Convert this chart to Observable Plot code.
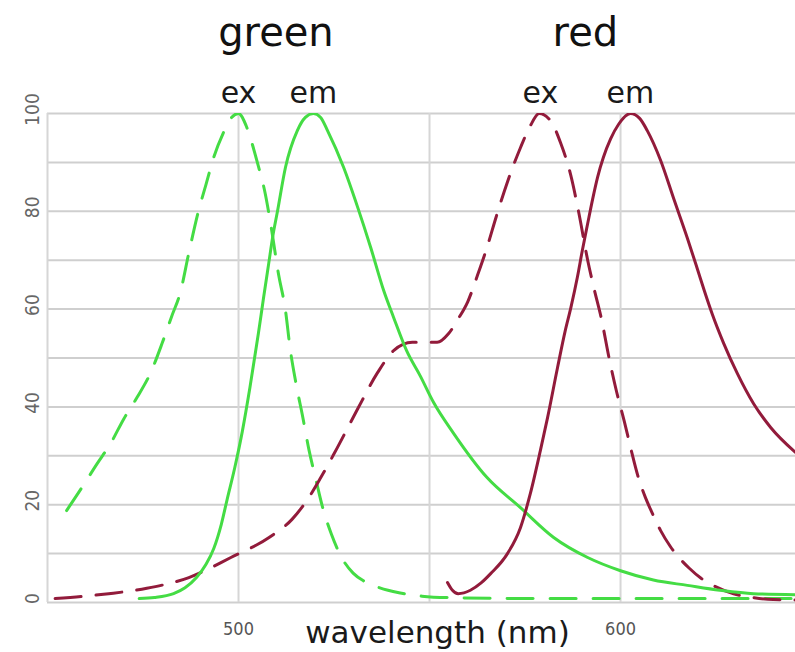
<!DOCTYPE html>
<html>
<head>
<meta charset="utf-8">
<script src="https://cdn.jsdelivr.net/npm/d3@7"></script>
<script src="https://cdn.jsdelivr.net/npm/@observablehq/plot@0.6"></script>
<style>
  html, body { margin: 0; padding: 0; background: #fff; }
</style>
</head>
<body>
<div id="chart"></div>
<script>
// wavelength (nm), relative intensity (%)
const greenEx = [
  [455,18.8],[459,23.5],[463,28.4],[466.5,32.5],[470,37.6],[473.5,42],[477,47],[480,53],
  [482.5,58.5],[484.8,63.5],[487,71.5],[489.5,80],[491.5,85.5],[493.5,91],[496,96],[498,99],
  [500,100],[502,97.5],[503.5,94],[505,89.8],[507,83.6],[508.5,77],[510.5,67],[512.3,59.7],
  [513.5,52],[515,45],[516.8,38],[518.5,31],[520.3,25],[522,19.5],[524.3,14],[527,9.2],
  [530,6],[533,4.3],[537,3],[542,2],[548,1.3],[555,1],[580,0.8],[646,0.8]
];
const greenEm = [
  [474,0.8],[478,1.0],[483,1.8],[486,3],[489,5.1],[491.5,7.8],[493.5,11],[495.5,16],[497,21],
  [499,27.5],[501,35],[503,44],[505.2,55],[506.5,62],[507.9,69.3],[509,75],[510.2,80],[512.3,89],
  [515.4,96.5],[517.5,99.2],[519.6,100],[521.5,99.2],[523.3,96.5],[527.5,89],[531.2,80.8],
  [534.6,72.6],[538,63.8],[540.6,58.3],[544,51.5],[547.6,46.3],[551,41],[556.3,34.6],[565,25.6],
  [573.8,19.4],[582.5,13.3],[591.4,9.2],[600,6.5],[608.6,4.6],[617.5,3.5],[626,2.5],[634.8,1.8],
  [646,1.6]
];
const redEx = [
  [452,0.8],[460,1.3],[466,1.8],[476,2.9],[487,5.1],[498,9.2],[508,13.3],[514,17],[518,21],
  [521.5,25.5],[525,30.4],[531,39.3],[536.4,47],[540.6,51.5],[545.5,53.2],[552,53.2],[555,55],
  [557.5,58],[560,61.5],[562.6,67],[565,72.5],[567.5,79],[570.4,86],[573.8,93],[576.4,97.5],
  [578.7,100],[581.7,98.5],[584.3,94],[587,87.3],[589,80],[591.4,70],[593,64.4],[595,58],
  [597,50],[599,43],[601,37],[603,30.5],[604.5,26],[606.5,21.5],[608,18.8],[610.5,14.7],
  [613,11.5],[615.5,9],[618,7],[621,5],[624,3.6],[629.6,1.8],[634.8,1],[640,0.6],[646,0.5]
];
const redEm = [
  [554.7,4.1],[556,2.5],[557.5,1.8],[560.7,2.5],[563.5,4],[566,5.9],[570.4,10],[573.8,15.3],
  [576.4,22.3],[579,31],[580.9,37.8],[583.5,48],[585.5,55.5],[587,60.3],[588.7,66.5],[590,72],
  [591.4,77.5],[592.7,82.5],[594,87],[595.5,91],[597.4,94.8],[599.5,97.8],[602.6,100],[605,99],
  [607,96.5],[610.5,90.4],[614,82.4],[617.5,74.5],[620.2,68],[622,63.6],[624,59],[627,53],
  [630.6,46.8],[634.8,40.7],[639.3,35.8],[645.8,30.7]
];

const xGrid = [450, 500, 550, 600];
const yGrid = [0,10,20,30,40,50,60,70,80,90,100];
const yTicks = [0,20,40,60,80,100];
const xTicks = [500, 600];

// peak labels: positioned at each curve's peak wavelength
const peakLabels = [
  {x: 500, text: "ex"}, {x: 519.6, text: "em"},
  {x: 579, text: "ex"}, {x: 602.6, text: "em"}
];
const dyeTitles = [
  {x: 509.8, text: "green"}, {x: 590.8, text: "red"}
];

const GREEN = "#44dc44";
const RED = "#921b3b";
const FONT = "DejaVu Sans, sans-serif";
const TICKFONT = "DejaVu Sans Condensed, DejaVu Sans, sans-serif";

const chart = Plot.plot({
  width: 795,
  height: 652,
  marginLeft: 47,
  marginRight: 0,
  marginTop: 113,
  marginBottom: 50,
  x: {domain: [450, 645.8], axis: null},
  y: {domain: [0, 100], axis: null},
  style: {fontFamily: FONT, background: "#fff"},
  marks: [
    Plot.ruleY(yGrid, {stroke: "#cfcfcf", strokeWidth: 2}),
    Plot.ruleX(xGrid, {stroke: "#d6d6d6", strokeWidth: 2}),
    Plot.line(greenEx, {x: d => d[0], y: d => d[1], stroke: GREEN, strokeWidth: 3,
      strokeDasharray: "26,17", curve: "monotone-x", clip: true}),
    Plot.line(redEx, {x: d => d[0], y: d => d[1], stroke: RED, strokeWidth: 3,
      strokeDasharray: "26,15", curve: "monotone-x", clip: true}),
    Plot.line(greenEm, {x: d => d[0], y: d => d[1], stroke: GREEN, strokeWidth: 3,
      curve: "monotone-x", clip: true}),
    Plot.line(redEm, {x: d => d[0], y: d => d[1], stroke: RED, strokeWidth: 3,
      curve: "monotone-x", clip: true}),
    // y tick labels (rotated)
    Plot.text(yTicks, {y: d => d, text: d => String(d), frameAnchor: "left", dx: -15, dy: -4,
      lineAnchor: "middle", rotate: -90, textAnchor: "middle", fontSize: 19,
      fontFamily: TICKFONT, fill: "#666"}),
    // x tick labels
    Plot.text(xTicks, {x: d => d, text: d => String(d), frameAnchor: "bottom", dy: 27,
      lineAnchor: "middle", fontSize: 18, fontFamily: TICKFONT, fill: "#555"}),
    // x axis title
    Plot.text(["wavelength (nm)"], {frameAnchor: "bottom", dx: 16, dy: 31, text: d => d,
      lineAnchor: "middle", fontSize: 31, fill: "#1a1a1a"}),
    // peak labels
    Plot.text(peakLabels, {x: "x", text: "text", frameAnchor: "top", dy: -20,
      lineAnchor: "middle", fontSize: 30, fill: "#1a1a1a"}),
    Plot.text(dyeTitles, {x: "x", text: "text", frameAnchor: "top", dy: -80,
      lineAnchor: "middle", fontSize: 40, fill: "#111"})
  ]
});
document.getElementById("chart").appendChild(chart);
</script>
</body>
</html>
